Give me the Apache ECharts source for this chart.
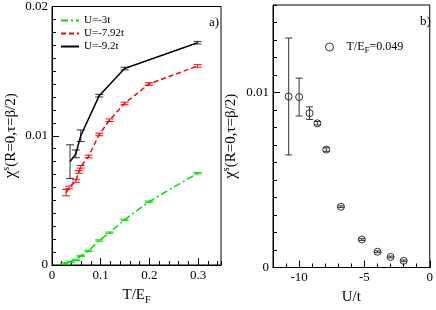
<!DOCTYPE html>
<html><head><meta charset="utf-8">
<script src="https://cdn.jsdelivr.net/npm/echarts@6/dist/echarts.min.js"></script>
<style>html,body{margin:0;padding:0;background:#fff}#c{width:436px;height:310px}</style>
</head><body><div id="c"></div>
<script>
// ---- Panel a) data: chi^s vs T/E_F ----
const tU3   = [0.025, 0.038, 0.049, 0.059, 0.075, 0.097, 0.118, 0.149, 0.199, 0.299];
const chiU3 = [0.00012, 0.00025, 0.0004, 0.0007, 0.0011, 0.0019, 0.0025, 0.0035, 0.0049, 0.0071];
const errU3 = [0.00005, 0.00005, 0.00005, 0.00005, 0.00005, 0.00005, 0.00005, 0.00005, 0.00005, 0.00005];

const tU792   = [0.029, 0.035, 0.049, 0.055, 0.059, 0.075, 0.097, 0.118, 0.149, 0.199, 0.299];
const chiU792 = [0.0056, 0.0060, 0.0065, 0.0072, 0.0076, 0.0084, 0.0101, 0.0112, 0.0125, 0.0140, 0.0154];
const errU792 = [0.00025, 0.0001, 0.0001, 0.0001, 0.0001, 0.0001, 0.0001, 0.0001, 0.0001, 0.0001, 0.0001];

const tU92   = [0.037, 0.049, 0.059, 0.097, 0.149, 0.299];
const chiU92 = [0.0080, 0.0086, 0.0100, 0.0131, 0.0152, 0.0172];
const errU92 = [0.0013, 0.0003, 0.00045, 0.0001, 0.0001, 0.0001];

// ---- Panel b) data: chi^s vs U/t at T/E_F=0.049 ----
const uVals  = [-10.8, -10, -9.2, -8.6, -7.92, -6.8, -5.2, -4, -3, -2];
const chiU   = [0.00977, 0.00974, 0.00882, 0.00824, 0.00674, 0.00347, 0.0016, 0.0009, 0.0006, 0.00038];
const errU   = [0.00334, 0.00108, 0.00036, 0.0001, 0.0001, 0.00005, 0.00005, 0.00005, 0.00005, 0.00005];

// ---- tick labels ----
const xTicksA = [0, 0.1, 0.2, 0.3];
const yTicksA = [0, 0.01, 0.02];
const xTicksB = [-10, -5, 0];
const yTicksB = [0, 0.01];

const FONT = 'Liberation Serif';
const zip2 = (a, b) => a.map((v, i) => [v, b[i]]);
const zip3 = (a, b, c) => a.map((v, i) => [v, b[i], c[i]]);
const fmt = v => (Math.abs(v) < 1e-12 ? '0' : String(+v.toFixed(4)));

function errRender(capHalf, color) {
  return function (params, api) {
    const x = api.value(0), y = api.value(1), e = api.value(2);
    const top = api.coord([x, y + e]), bot = api.coord([x, y - e]);
    const style = { stroke: color, lineWidth: 1, fill: null };
    return { type: 'group', children: [
      { type: 'line', shape: { x1: top[0], y1: top[1], x2: bot[0], y2: bot[1] }, style },
      { type: 'line', shape: { x1: top[0] - capHalf, y1: top[1], x2: top[0] + capHalf, y2: top[1] }, style },
      { type: 'line', shape: { x1: bot[0] - capHalf, y1: bot[1], x2: bot[0] + capHalf, y2: bot[1] }, style }
    ]};
  };
}

const labelStyle = { fontFamily: FONT, fontSize: 13, color: '#000' };
const nameRich = {
  a: { fontFamily: FONT, fontSize: 15, color: '#000', lineHeight: 20 },
  c: { fontFamily: FONT, fontSize: 17, color: '#000', lineHeight: 20 },
  sub: { fontFamily: FONT, fontSize: 10, color: '#000', lineHeight: 10, verticalAlign: 'bottom' },
  sup: { fontFamily: FONT, fontSize: 10, color: '#000', lineHeight: 10, verticalAlign: 'top' }
};
const yName = '{c|χ}{sup|s}{a|(R=0,τ=β/2)}';

function mainAxis(o) {
  return Object.assign({
    type: 'value',
    axisLine: { show: true, onZero: false, lineStyle: { color: '#000', width: 1 } },
    axisTick: { show: true, inside: true, length: 7, customValues: o.ticks, lineStyle: { color: '#000' } },
    axisLabel: Object.assign({ customValues: o.ticks, formatter: fmt, margin: 4 }, labelStyle),
    splitLine: { show: false },
    nameTextStyle: { rich: nameRich }
  }, o.extra);
}
function minorAxis(o) {
  return Object.assign({
    type: 'value',
    axisLine: { show: false, onZero: false },
    axisTick: { show: true, inside: true, length: 4, lineStyle: { color: '#000' } },
    axisLabel: { show: false },
    splitLine: { show: false }
  }, o);
}

const option = {
  animation: false,
  backgroundColor: '#fff',
  title: [
    { text: 'a)', left: 204, top: 11, textStyle: { fontFamily: FONT, fontSize: 13, fontWeight: 'normal', color: '#000' } },
    { text: 'b)', left: 415, top: 10, textStyle: { fontFamily: FONT, fontSize: 13, fontWeight: 'normal', color: '#000' } }
  ],
  grid: [
    { left: 49, top: 5, width: 172, height: 269, show: true, borderColor: '#000', borderWidth: 1, backgroundColor: 'transparent' },
    { left: 273, top: 5, width: 157, height: 267, show: true, borderColor: '#000', borderWidth: 1, backgroundColor: 'transparent' }
  ],
  legend: [
    { data: ['U=-3t', 'U=-7.92t', 'U=-9.2t'], orient: 'vertical', left: 60, top: 15, itemWidth: 18, itemHeight: 10, itemGap: 2, padding: 0,
      itemStyle: { opacity: 0 },
      textStyle: { fontFamily: FONT, fontSize: 11, color: '#000' } },
    { data: ['T/E_F=0.049'], left: 325, top: 41, itemWidth: 8, itemHeight: 8, padding: 0,
      itemStyle: { color: 'rgba(255,255,255,0)', borderColor: '#000', borderWidth: 1 },
      formatter: () => '{p|}{a|T/E}{s|F}{a|=0.049}',
      textStyle: { rich: {
        p: { width: 8 },
        a: { fontFamily: FONT, fontSize: 12, color: '#000', lineHeight: 16 },
        s: { fontFamily: FONT, fontSize: 9, color: '#000', lineHeight: 9, verticalAlign: 'bottom' } } } }
  ],
  xAxis: [
    mainAxis({ ticks: xTicksA, extra: { gridIndex: 0, min: 0, max: 0.347, position: 'bottom',
      name: '{a|T/E}{sub|F}', nameLocation: 'middle', nameGap: 20 } }),
    minorAxis({ gridIndex: 0, min: 0, max: 0.347, interval: 0.02, position: 'bottom' }),
    mainAxis({ ticks: xTicksB, extra: { gridIndex: 1, min: -12, max: 0, position: 'bottom',
      name: '{a|U/t}', nameLocation: 'middle', nameGap: 20 } }),
    minorAxis({ gridIndex: 1, min: -12, max: 0, interval: 1, position: 'bottom' })
  ],
  yAxis: [
    mainAxis({ ticks: yTicksA, extra: { gridIndex: 0, min: 0, max: 0.02, position: 'left',
      name: yName, nameLocation: 'middle', nameGap: 31, nameRotate: 90 } }),
    minorAxis({ gridIndex: 0, min: 0, max: 0.02, interval: 0.001, position: 'left' }),
    mainAxis({ ticks: yTicksB, extra: { gridIndex: 1, min: 0, max: 0.015, position: 'left',
      name: yName, nameLocation: 'middle', nameGap: 32, nameRotate: 90 } }),
    minorAxis({ gridIndex: 1, min: 0, max: 0.015, interval: 0.001, position: 'left' })
  ],
  series: [
    { name: 'U=-3t', type: 'line', xAxisIndex: 0, yAxisIndex: 0, data: zip2(tU3, chiU3), symbol: 'none',
      lineStyle: { color: '#00e000', width: 1.5, type: [7, 3, 2, 3] }, itemStyle: { color: '#00e000' } },
    { name: 'U=-7.92t', type: 'line', xAxisIndex: 0, yAxisIndex: 0, data: zip2(tU792, chiU792), symbol: 'none',
      lineStyle: { color: '#ff0000', width: 1.5, type: [5, 3] }, itemStyle: { color: '#ff0000' } },
    { name: 'U=-9.2t', type: 'line', xAxisIndex: 0, yAxisIndex: 0, data: zip2(tU92, chiU92), symbol: 'none',
      lineStyle: { color: '#000', width: 1.5 }, itemStyle: { color: '#000' } },
    { name: 'errU3', type: 'custom', xAxisIndex: 0, yAxisIndex: 0, data: zip3(tU3, chiU3, errU3),
      renderItem: errRender(4, '#00e000'), encode: { x: 0, y: 1 }, z: 3 },
    { name: 'errU792', type: 'custom', xAxisIndex: 0, yAxisIndex: 0, data: zip3(tU792, chiU792, errU792),
      renderItem: errRender(4, '#ff0000'), encode: { x: 0, y: 1 }, z: 3 },
    { name: 'errU92', type: 'custom', xAxisIndex: 0, yAxisIndex: 0, data: zip3(tU92, chiU92, errU92),
      renderItem: errRender(4, '#333'), encode: { x: 0, y: 1 }, z: 3 },
    { name: 'T/E_F=0.049', type: 'scatter', xAxisIndex: 2, yAxisIndex: 2, data: zip2(uVals, chiU), symbol: 'circle', symbolSize: 7,
      itemStyle: { color: 'rgba(255,255,255,0)', borderColor: '#000', borderWidth: 1 } },
    { name: 'errB', type: 'custom', xAxisIndex: 2, yAxisIndex: 2, data: zip3(uVals, chiU, errU),
      renderItem: errRender(3.5, '#333'), encode: { x: 0, y: 1 }, z: 3 }
  ]
};
const chart = echarts.init(document.getElementById('c'), null, { renderer: 'canvas' });
chart.setOption(option);
</script></body></html>
